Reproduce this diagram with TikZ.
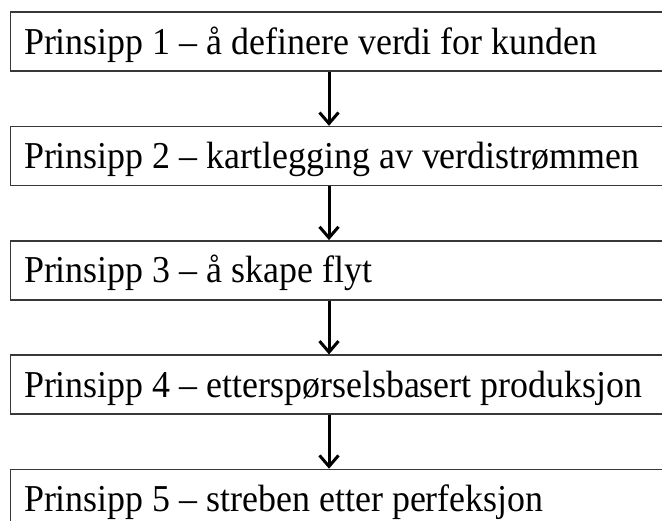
\documentclass[tikz,border=0pt]{standalone}
\usepackage{fontspec}
\setmainfont{Liberation Serif}[FakeStretch=0.945]
\usetikzlibrary{arrows.meta}
\begin{document}
\begin{tikzpicture}[x=1pt,y=-1pt]
\tikzset{
  pbox/.style={draw=black!78, line width=1.5pt, rectangle, anchor=north west,
    minimum width=690pt, minimum height=59pt, text width=662.8pt, align=flush left,
    inner xsep=13.6pt, inner ysep=0pt, text height=34pt, text depth=9pt,
    font=\fontsize{38}{43}\selectfont},
  parrow/.style={line width=3pt, -{Straight Barb[length=11pt, width=19pt, line width=3pt]}}
}
\clip (0,0) rectangle (662,521);
\fill[white] (0,0) rectangle (662,521);
\node[pbox] (b1) at (9.7,11.5) {Prinsipp 1 – å definere verdi for kunden};
\node[pbox] (b2) at (9.7,125.8) {Prinsipp 2 – kartlegging av verdistrømmen};
\node[pbox] (b3) at (9.7,240.1) {Prinsipp 3 – å skape flyt};
\node[pbox] (b4) at (9.7,354.4) {Prinsipp 4 – etterspørselsbasert produksjon};
\node[pbox] (b5) at (9.7,468.7) {Prinsipp 5 – streben etter perfeksjon};
\coordinate (ax) at (329,0);
\draw[parrow] (ax |- b1.south) -- (ax |- b2.north);
\draw[parrow] (ax |- b2.south) -- (ax |- b3.north);
\draw[parrow] (ax |- b3.south) -- (ax |- b4.north);
\draw[parrow] (ax |- b4.south) -- (ax |- b5.north);
\end{tikzpicture}
\end{document}
